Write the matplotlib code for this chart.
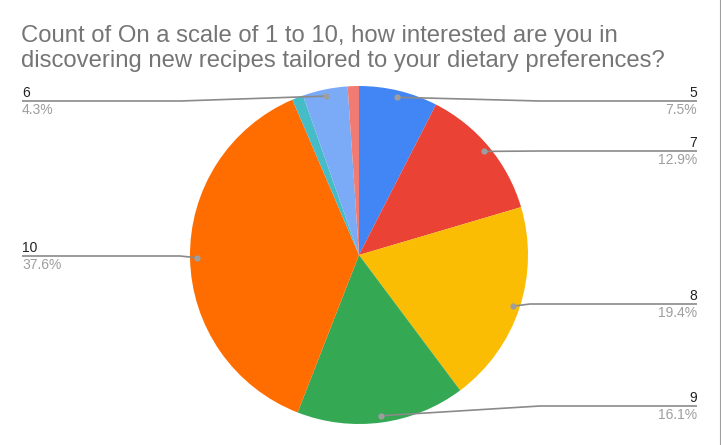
import numpy as np
import matplotlib.pyplot as plt

# answers (scale 1-10) in the order the slices are drawn, clockwise from top
labels = ["5", "7", "8", "9", "10", "4", "6", "3"]
counts = [7, 12, 18, 15, 35, 1, 4, 1]
colors = ["#4285F4", "#EA4335", "#FBBC04", "#34A853", "#FF6D01",
          "#46BDC6", "#7BAAF7", "#F07B72"]
shown = ["5", "7", "8", "9", "10", "6"]

title = ("Count of On a scale of 1 to 10, how interested are you in\n"
         "discovering new recipes tailored to your dietary preferences?")

fig = plt.figure(figsize=(7.21, 4.45), dpi=100)
ax = fig.add_axes([0, 0, 1, 1])

cx, cy, R = 359, 255, 169
wedges, _ = ax.pie(counts, colors=colors, center=(cx, cy), radius=R,
                   startangle=-90, counterclock=True,
                   wedgeprops=dict(linewidth=0))

ax.set_xlim(0, 721)
ax.set_ylim(445, 0)
ax.set_aspect("equal")
ax.axis("off")

ax.text(21, 25, title, fontsize=17.2, color="#757575", family="Liberation Sans",
        va="top", ha="left", linespacing=1.17)

total = sum(counts)
# label side, line y, bend x for each shown label
layout = {
    "5": ("right", 101, 540),
    "7": ("right", 151, 540),
    "8": ("right", 304, 530),
    "9": ("right", 406, 540),
    "10": ("left", 256, 180),
    "6": ("left", 101, 180),
}

for w, lab, c in zip(wedges, labels, counts):
    if lab not in shown:
        continue
    mid = np.deg2rad((w.theta1 + w.theta2) / 2)
    dx = cx + 0.96 * R * np.cos(mid)
    dy = cy + 0.96 * R * np.sin(mid)
    side, ly, bx = layout[lab]
    if side == "right":
        ex, ha, tx = 697, "right", 697
    else:
        ex, ha, tx = 22, "left", 22
    ax.plot([dx, bx, ex], [dy, ly, ly], color="#8a8a8a", lw=1.2,
            solid_capstyle="butt", zorder=3)
    ax.plot(dx, dy, "o", color="#9e9e9e", ms=4.5, mec="none", zorder=4)
    ax.text(tx, ly - 4, lab, fontsize=10, color="#222222", ha=ha,
            va="baseline", family="Liberation Sans")
    ax.text(tx, ly + 13, f"{100 * c / total:.1f}%", fontsize=10,
            color="#9e9e9e", ha=ha, va="baseline", family="Liberation Sans")

ax.plot([720.5, 720.5], [0, 445], color="#9e9e9e", lw=1.5, clip_on=False)

fig.savefig("out.png", dpi=100, facecolor="white")
